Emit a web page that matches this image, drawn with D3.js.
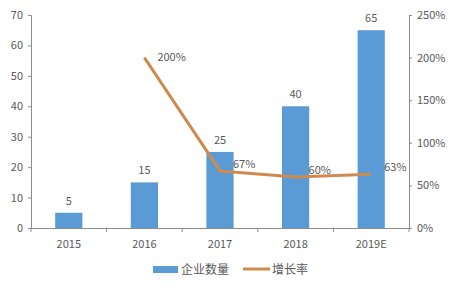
<!DOCTYPE html>
<html>
<head>
<meta charset="utf-8">
<script src="https://cdn.jsdelivr.net/npm/d3@7"></script>
<style>
  body { margin: 0; background: #fff; }
  text { font-family: "Noto Sans CJK SC", "Open Sans", sans-serif; }
</style>
</head>
<body>
<svg id="chart"></svg>
<script>
var years = ["2015", "2016", "2017", "2018", "2019E"];
var companies = [5, 15, 25, 40, 65];
var growth = [null, 200, 67, 60, 63];
var leftTicks = [0, 10, 20, 30, 40, 50, 60, 70];
var rightTicks = [0, 50, 100, 150, 200, 250];

var width = 455, height = 290;
var margin = { top: 15, right: 46, bottom: 62, left: 31 };

var svg = d3.select("#chart")
    .attr("width", width)
    .attr("height", height);

var x = d3.scaleBand()
    .domain(years)
    .range([margin.left, width - margin.right])
    .paddingInner(0.64)
    .paddingOuter(0.32);

var y = d3.scaleLinear()
    .domain([0, 70])
    .range([height - margin.bottom, margin.top]);

var y2 = d3.scaleLinear()
    .domain([0, 250])
    .range([height - margin.bottom, margin.top]);

var axisColor = "#8c8c8c";
var textColor = "#595959";

// left axis
var gl = svg.append("g")
    .attr("transform", "translate(" + margin.left + ",0)")
    .call(d3.axisLeft(y).tickValues(leftTicks).tickSize(3).tickPadding(5));

// right axis
var gr = svg.append("g")
    .attr("transform", "translate(" + (width - margin.right) + ",0)")
    .call(d3.axisRight(y2).tickValues(rightTicks).tickSize(3).tickPadding(5)
        .tickFormat(function (d) { return d + "%"; }));

// bottom axis, ticks at category boundaries
var gb = svg.append("g")
    .attr("transform", "translate(0," + (height - margin.bottom) + ")")
    .call(d3.axisBottom(x).tickSize(0).tickPadding(12));

var step = x.step();
gb.selectAll(".bound")
    .data(d3.range(years.length + 1))
    .enter().append("line")
    .attr("class", "bound")
    .attr("x1", function (i) { return margin.left + i * step; })
    .attr("x2", function (i) { return margin.left + i * step; })
    .attr("y1", 0).attr("y2", 4)
    .attr("stroke", axisColor);

[gl, gr, gb].forEach(function (g) {
    g.select(".domain").attr("stroke", axisColor);
    g.selectAll(".tick line").attr("stroke", axisColor);
    g.selectAll("text").attr("fill", textColor).style("font-size", "11px");
});

// bars
svg.append("g").selectAll("rect")
    .data(companies)
    .enter().append("rect")
    .attr("x", function (d, i) { return x(years[i]); })
    .attr("y", function (d) { return y(d); })
    .attr("width", x.bandwidth())
    .attr("height", function (d) { return y(0) - y(d); })
    .attr("fill", "#5B9BD5");

svg.append("g").selectAll("text")
    .data(companies)
    .enter().append("text")
    .attr("x", function (d, i) { return x(years[i]) + x.bandwidth() / 2; })
    .attr("y", function (d) { return y(d) - 8; })
    .attr("text-anchor", "middle")
    .attr("fill", textColor)
    .style("font-size", "11px")
    .text(function (d) { return d; });

// growth line
var lineColor = "#D08A4E";
var pts = growth.map(function (d, i) { return { year: years[i], v: d }; })
    .filter(function (d) { return d.v !== null; });

svg.append("path")
    .datum(pts)
    .attr("fill", "none")
    .attr("stroke", lineColor)
    .attr("stroke-width", 3)
    .attr("stroke-linejoin", "round")
    .attr("d", d3.line()
        .x(function (d) { return x(d.year) + x.bandwidth() / 2; })
        .y(function (d) { return y2(d.v); }));

svg.append("g").selectAll("text")
    .data(pts)
    .enter().append("text")
    .attr("x", function (d) { return x(d.year) + x.bandwidth() / 2 + 13; })
    .attr("y", function (d, i) { return y2(d.v) + (i === 0 ? 3 : -3); })
    .attr("fill", textColor)
    .style("font-size", "11px")
    .text(function (d) { return d.v + "%"; });

// legend
var leg = svg.append("g").attr("transform", "translate(153,269)");
leg.append("rect")
    .attr("x", 0).attr("y", -3)
    .attr("width", 25).attr("height", 7)
    .attr("fill", "#5B9BD5");
leg.append("text")
    .attr("x", 28).attr("y", 5)
    .attr("fill", textColor)
    .style("font-size", "12px")
    .text("企业数量");
leg.append("line")
    .attr("x1", 90).attr("x2", 117)
    .attr("y1", 0).attr("y2", 0)
    .attr("stroke", lineColor)
    .attr("stroke-width", 3);
leg.append("text")
    .attr("x", 119).attr("y", 5)
    .attr("fill", textColor)
    .style("font-size", "12px")
    .text("增长率");
</script>
</body>
</html>
